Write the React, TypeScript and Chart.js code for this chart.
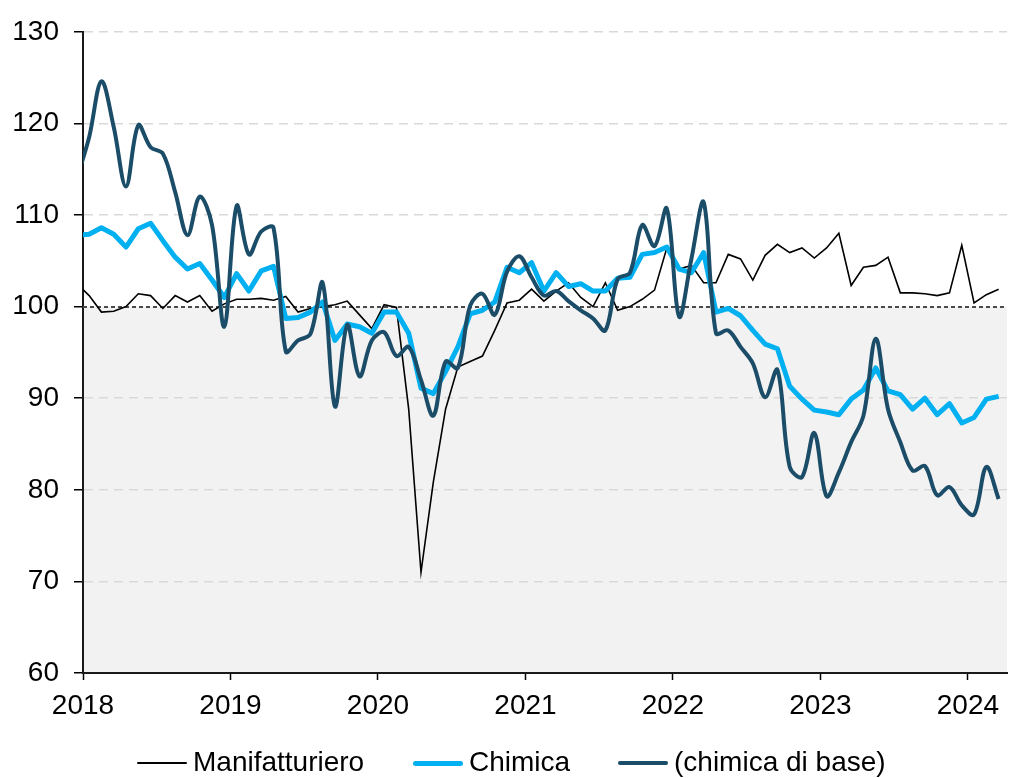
import React, { useEffect, useRef } from 'react';
import { Chart, registerables } from 'chart.js';

Chart.register(...registerables);

const FONT = '"Liberation Sans", Arial, Helvetica, sans-serif';

// Monthly observations: Dec 2017 .. Mar 2024 (first point sits just left of the axis and is clipped)
const startYear = 2017;
const startMonth = 12;
const yearLabels = ['2018', '2019', '2020', '2021', '2022', '2023', '2024'];

const manifatturiero = [
  102.5,
  101.2, 99.4, 99.5, 100.0, 101.4, 101.2, 99.8, 101.2, 100.5, 101.2, 99.5, 100.3,
  100.8, 100.8, 100.9, 100.7, 101.1, 99.4, 99.8, 100.0, 100.2, 100.6, 99.1, 97.6,
  100.2, 99.9, 88.8, 71.0, 80.8, 88.8, 93.4, 94.0, 94.6, 97.4, 100.4, 100.7,
  101.9, 100.6, 101.7, 102.6, 101.0, 100.0, 102.6, 99.6, 100.0, 100.8, 101.8, 106.4,
  104.1, 104.5, 102.6, 102.6, 105.7, 105.2, 102.9, 105.6, 106.8, 105.9, 106.4, 105.3,
  106.4, 108.0, 102.3, 104.3, 104.5, 105.4, 101.5, 101.5, 101.4, 101.2, 101.5, 106.7,
  100.4, 101.3, 101.9,
];

const chimica = [
  107.8,
  107.9, 108.6, 107.9, 106.5, 108.5, 109.1, 107.2, 105.4, 104.1, 104.7, 102.9, 101.0,
  103.6, 101.7, 103.9, 104.4, 98.7, 98.8, 99.4, 100.5, 96.3, 98.1, 97.8, 97.1,
  99.4, 99.4, 97.1, 91.1, 90.5, 92.9, 95.6, 99.2, 99.6, 100.5, 104.3, 103.7,
  104.8, 101.7, 103.7, 102.2, 102.5, 101.7, 101.7, 103.1, 103.2, 105.7, 105.9, 106.5,
  104.1, 103.7, 105.9, 99.4, 99.8, 99.0, 97.4, 95.9, 95.4, 91.3, 89.9, 88.7,
  88.5, 88.2, 89.9, 90.9, 93.3, 90.8, 90.4, 88.8, 90.0, 88.2, 89.4, 87.3,
  87.9, 89.9, 90.2,
];

const chimicaDiBase = [
  114.0,
  118.5, 124.6, 119.6, 113.1, 119.8, 117.4, 116.7, 112.5, 107.8, 112.0, 108.9, 97.8,
  111.0, 105.7, 108.2, 108.6, 95.1, 96.3, 97.0, 102.6, 89.1, 98.0, 92.4, 96.3,
  97.2, 94.6, 95.6, 92.0, 88.1, 94.0, 93.3, 100.1, 101.4, 99.1, 103.8, 105.5,
  103.2, 101.2, 101.7, 100.6, 99.6, 98.7, 97.4, 103.0, 103.7, 108.9, 106.6, 110.7,
  98.9, 105.2, 111.4, 97.1, 97.4, 95.6, 93.8, 90.1, 93.1, 82.5, 81.4, 86.2,
  79.3, 81.9, 85.2, 88.1, 96.5, 88.8, 85.2, 82.1, 82.6, 79.4, 80.3, 78.3,
  77.3, 82.5, 79.0,
];

// month labels for each observation
const months: string[] = manifatturiero.map((_, k) => {
  const m0 = startMonth - 1 + k;
  const y = startYear + Math.floor(m0 / 12);
  const m = (m0 % 12) + 1;
  return `${y}-${String(m).padStart(2, '0')}`;
});

// position on a month axis where Jan 2018 starts at 0; points sit mid-month
const monthPos = (label: string) => {
  const [y, m] = label.split('-').map(Number);
  return (y - 2018) * 12 + (m - 1) + 0.5;
};

const toPoints = (vals: number[]) => vals.map((v, k) => ({ x: monthPos(months[k]), y: v }));

const COLORS = {
  manif: '#000000',
  chim: '#00B0F0',
  base: '#1B4C68',
};

const legendItems = [
  { label: 'Manifatturiero', color: COLORS.manif, thick: 2, left: 137 },
  { label: 'Chimica', color: COLORS.chim, thick: 5, left: 413 },
  { label: '(chimica di base)', color: COLORS.base, thick: 4, left: 618 },
];

const bandPlugin = {
  id: 'bandPlugin',
  beforeDraw(chart: any) {
    const { ctx, chartArea: a, scales } = chart;
    const y100 = scales.y.getPixelForValue(100);
    ctx.save();
    ctx.fillStyle = '#F2F2F2';
    ctx.fillRect(a.left, y100, a.right - a.left, a.bottom - y100);
    ctx.restore();
  },
  beforeDatasetsDraw(chart: any) {
    const { ctx, chartArea: a, scales } = chart;
    const y100 = Math.round(scales.y.getPixelForValue(100));
    ctx.save();
    ctx.strokeStyle = '#4a4a4a';
    ctx.lineWidth = 2;
    ctx.setLineDash([4, 3]);
    ctx.beginPath();
    ctx.moveTo(a.left, y100);
    ctx.lineTo(a.right, y100);
    ctx.stroke();
    ctx.restore();
  },
};

export default function App() {
  const canvasRef = useRef<HTMLCanvasElement | null>(null);

  useEffect(() => {
    if (!canvasRef.current) return;
    const chart = new Chart(canvasRef.current, {
      type: 'line',
      data: {
        datasets: [
          {
            label: 'Manifatturiero',
            data: toPoints(manifatturiero),
            borderColor: COLORS.manif,
            backgroundColor: COLORS.manif,
            borderWidth: 1.6,
            pointRadius: 0,
            tension: 0,
            order: 3,
            clip: 0,
          },
          {
            label: 'Chimica',
            data: toPoints(chimica),
            borderColor: COLORS.chim,
            backgroundColor: COLORS.chim,
            borderWidth: 5,
            pointRadius: 0,
            tension: 0,
            borderJoinStyle: 'round',
            order: 2,
            clip: 0,
          },
          {
            label: '(chimica di base)',
            data: toPoints(chimicaDiBase),
            borderColor: COLORS.base,
            backgroundColor: COLORS.base,
            borderWidth: 4,
            pointRadius: 0,
            tension: 0.35,
            borderJoinStyle: 'round',
            order: 1,
            clip: 0,
          },
        ],
      },
      options: {
        responsive: false,
        animation: false,
        events: [],
        layout: { padding: { top: 25, right: 5, bottom: 55, left: 0 } },
        plugins: {
          legend: { display: false },
          tooltip: { enabled: false },
        },
        scales: {
          x: {
            type: 'linear',
            min: 0,
            max: 75.18,
            afterFit: (s: any) => {
              s.height = 50;
            },
            afterBuildTicks: (s: any) => {
              s.ticks = yearLabels.map((_, i) => ({ value: i * 12 }));
            },
            ticks: {
              autoSkip: false,
              maxRotation: 0,
              padding: 9,
              color: '#000',
              font: { family: FONT, size: 28 },
              callback: (_v: any, i: number) => yearLabels[i],
            },
            grid: {
              drawOnChartArea: false,
              drawTicks: true,
              tickLength: 7,
              tickColor: '#000',
              tickWidth: 1.5,
            },
            border: { color: '#1a1a1a', width: 2 },
          },
          y: {
            min: 60,
            max: 130,
            afterFit: (s: any) => {
              s.width = 83;
            },
            ticks: {
              stepSize: 10,
              padding: 15,
              color: '#000',
              font: { family: FONT, size: 28 },
            },
            grid: {
              color: (c: any) =>
                c.tick && (c.tick.value === 100 || c.tick.value === 60) ? 'rgba(0,0,0,0)' : '#D9D9D9',
              lineWidth: 1.5,
              tickColor: '#000',
              tickLength: 9,
              tickWidth: 1.5,
              tickBorderDash: [],
            },
            border: { color: '#1a1a1a', width: 2, dash: [9, 6] },
          },
        },
      },
      plugins: [bandPlugin],
    } as any);
    return () => chart.destroy();
  }, []);

  return (
    <div style={{ position: 'absolute', left: 0, top: 0, width: 1012, height: 778, background: '#fff' }}>
      <canvas ref={canvasRef} width={1012} height={778} style={{ display: 'block' }} />
      {legendItems.map((it) => (
        <div
          key={it.label}
          style={{
            position: 'absolute',
            left: it.left,
            top: 746,
            height: 32,
            display: 'flex',
            alignItems: 'center',
            fontFamily: FONT,
            fontSize: 28,
            lineHeight: '32px',
            color: '#000',
            whiteSpace: 'nowrap',
          }}
        >
          <span
            style={{
              display: 'inline-block',
              width: 50,
              height: it.thick,
              background: it.color,
              borderRadius: it.thick / 2,
              marginRight: 6,
              marginTop: 2,
            }}
          />
          <span>{it.label}</span>
        </div>
      ))}
    </div>
  );
}
